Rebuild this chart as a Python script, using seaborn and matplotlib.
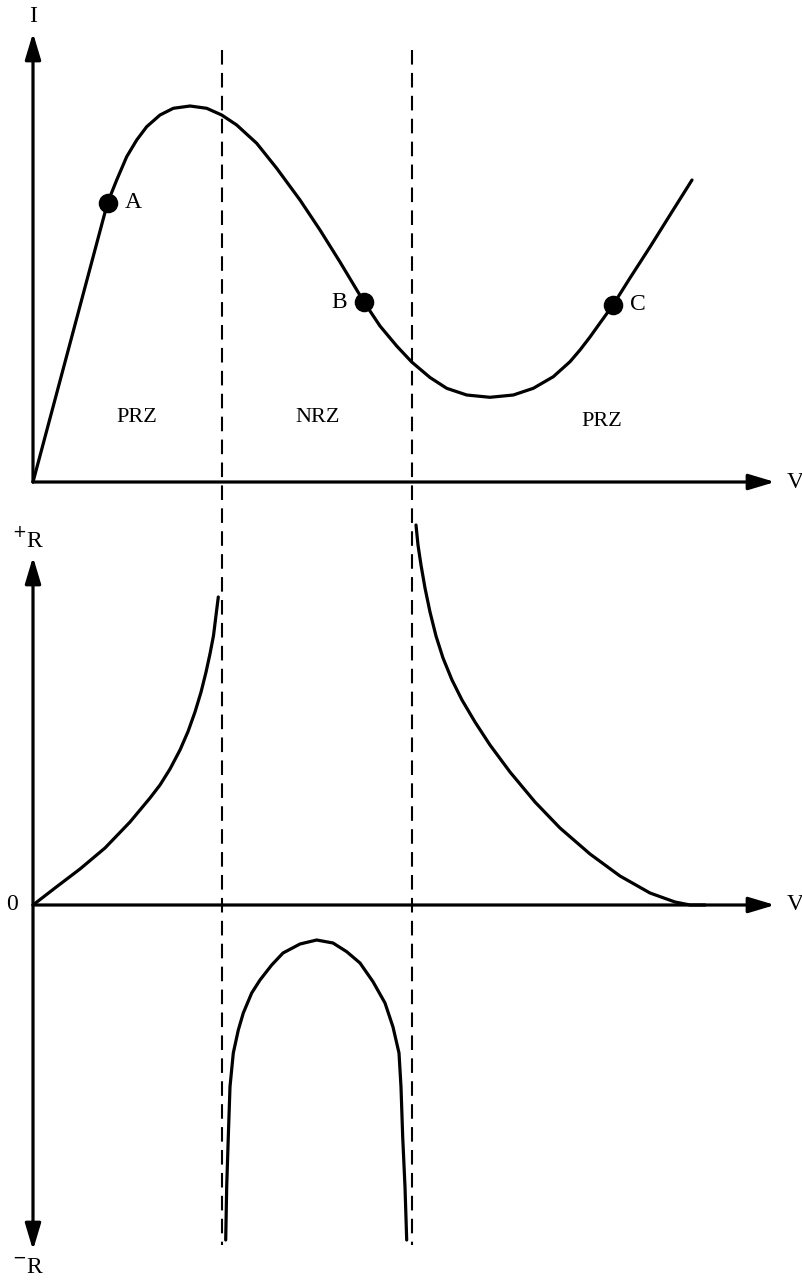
import matplotlib
matplotlib.use("Agg")
import matplotlib.pyplot as plt
import pandas as pd
import seaborn as sns

sns.set_theme(style="white")
plt.rcParams["font.family"] = ["Liberation Serif", "DejaVu Serif"]

# ---- I–V characteristic (V and I in arbitrary units, origin at 0) ----
iv_v = [0.0, 7.45, 8.37, 9.37, 10.37, 11.37, 12.7, 14.03, 15.7, 17.37, 18.87,
        20.37, 22.37, 24.37, 26.7, 28.7, 30.7, 33.1, 34.7, 36.37, 37.87, 39.7,
        41.37, 43.37, 45.7, 48.03, 50.03, 52.03, 53.7, 54.7, 55.7, 56.7, 58.0,
        59.7, 61.7, 63.7, 65.9]
iv_i = [0.0, 27.9, 30.2, 32.53, 34.2, 35.53, 36.7, 37.37, 37.6, 37.37, 36.7,
        35.7, 33.87, 31.37, 28.2, 25.2, 22.0, 18.0, 15.6, 13.6, 12.0, 10.45,
        9.37, 8.7, 8.47, 8.7, 9.37, 10.53, 12.03, 13.2, 14.5, 15.9, 17.7,
        20.4, 23.5, 26.7, 30.2]

# operating points on the I–V curve
pt_names = ["A", "B", "C"]
pt_v = [7.45, 33.1, 58.0]
pt_i = [27.9, 18.0, 17.7]

# region labels
zone_names = ["PRZ", "NRZ", "PRZ"]
zone_v = [10.4, 28.5, 56.9]
zone_i = [6.4, 6.4, 6.0]

# boundaries between the resistance zones
boundary_v = [18.9, 37.9]

# ---- differential resistance R(V) ----
rp1_v = [0.0, 2.2, 4.7, 7.2, 9.7, 11.7, 12.7, 13.7, 14.7, 15.5, 16.2, 16.8,
         17.3, 17.7, 18.05, 18.33, 18.53]
rp1_r = [0.0, 1.7, 3.6, 5.7, 8.3, 10.7, 12.0, 13.6, 15.5, 17.34, 19.3, 21.28,
         23.28, 25.12, 26.94, 29.2, 30.8]

rp2_v = [38.3, 38.5, 38.8, 39.2, 39.7, 40.3, 41.0, 41.9, 42.9, 44.2, 45.7,
         47.7, 50.2, 52.7, 55.7, 58.7, 61.7, 64.2, 65.7, 67.2]
rp2_r = [38.0, 36.0, 34.0, 31.7, 29.3, 26.9, 24.7, 22.5, 20.5, 18.3, 16.0,
         13.3, 10.3, 7.7, 5.1, 2.9, 1.2, 0.3, 0.0, 0.0]

rn_v = [19.27, 19.37, 19.53, 19.7, 20.03, 20.53, 21.03, 21.87, 22.7, 23.87,
        25.0, 26.7, 28.37, 30.0, 31.37, 32.7, 34.0, 35.2, 36.0, 36.6, 36.8,
        36.97, 37.2, 37.37]
rn_r = [-33.5, -28.17, -23.17, -18.17, -14.8, -12.5, -10.8, -8.8, -7.5, -6.0,
        -4.8, -3.9, -3.5, -3.8, -4.67, -5.8, -7.67, -9.8, -12.2, -14.8, -18.2,
        -23.2, -28.2, -33.5]

LW = 2.3
INK = "black"

fig = plt.figure(figsize=(8.03, 12.81), dpi=100)
W, H = 803.0, 1281.0
split = 500.0
ax_top = fig.add_axes([0, (H - split) / H, 1, split / H])
ax_bot = fig.add_axes([0, 0, 1, (H - split) / H])
ax_top.set_zorder(2)

ax_top.set_xlim(-3.3, 77.0)
ax_top.set_ylim(-1.8, 48.2)
ax_bot.set_xlim(-3.3, 77.0)
ax_bot.set_ylim(-37.6, 40.5)
for ax in (ax_top, ax_bot):
    ax.axis("off")

# ---- top panel: I–V curve ----
iv = pd.DataFrame({"V": iv_v, "I": iv_i})
sns.lineplot(data=iv, x="V", y="I", sort=False, estimator=None, color=INK,
             lw=LW, ax=ax_top)
sns.scatterplot(x=pt_v, y=pt_i, color=INK, s=170, edgecolor=INK, zorder=5,
                ax=ax_top)
for name, v, i, dx in zip(pt_names, pt_v, pt_i, [1.7, -1.7, 1.7]):
    ax_top.text(v + dx, i, name, ha="left" if dx > 0 else "right",
                va="center", fontsize=17, color=INK)
for name, v, i in zip(zone_names, zone_v, zone_i):
    ax_top.text(v, i, name, ha="center", va="center", fontsize=16, color=INK)

arrow = dict(arrowstyle="-|>,head_length=0.8,head_width=0.24",
             mutation_scale=20, lw=LW, color=INK, shrinkA=0, shrinkB=0)
arrow2 = dict(arrowstyle="<|-|>,head_length=0.8,head_width=0.24",
              mutation_scale=20, lw=LW, color=INK, shrinkA=0, shrinkB=0)

ax_top.annotate("", xy=(0, 44.9), xytext=(0, 0), arrowprops=arrow)
ax_top.annotate("", xy=(74.2, 0), xytext=(0, 0), arrowprops=arrow)
ax_top.text(0, 46.5, "I", ha="center", va="center", fontsize=17, color=INK)
ax_top.text(76.2, 0, "V", ha="center", va="center", fontsize=17, color=INK)

# dashed zone boundaries running through both panels
for bv in boundary_v:
    ax_top.plot([bv, bv], [43.2, -76.3], color=INK, lw=1.5,
                dashes=(7, 4), clip_on=False, zorder=1)

# ---- bottom panel: R(V) ----
for xs, ys in ((rp1_v, rp1_r), (rp2_v, rp2_r), (rn_v, rn_r)):
    sns.lineplot(x=xs, y=ys, sort=False, estimator=None, color=INK, lw=LW,
                 ax=ax_bot)

ax_bot.annotate("", xy=(0, 34.8), xytext=(0, -34.5), arrowprops=arrow2)
ax_bot.annotate("", xy=(74.2, 0), xytext=(0, 0), arrowprops=arrow)
ax_bot.text(-0.5, 36.5, "$^{+}$R", ha="center", va="center", fontsize=17,
            color=INK)
ax_bot.text(-0.5, -36.3, "$^{-}$R", ha="center", va="center", fontsize=17,
            color=INK)
ax_bot.text(-2.1, 0, "0", ha="center", va="center", fontsize=17, color=INK)
ax_bot.text(76.2, 0, "V", ha="center", va="center", fontsize=17, color=INK)

fig.savefig("out.png", dpi=100, facecolor="white")
